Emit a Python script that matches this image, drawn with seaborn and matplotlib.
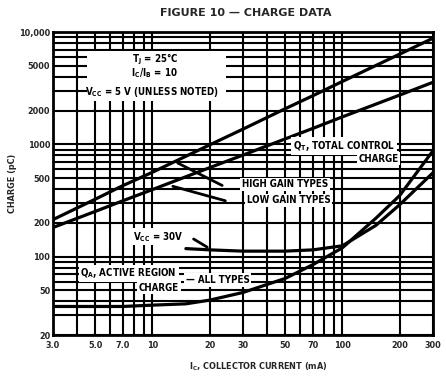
import numpy as np
import pandas as pd
import matplotlib
matplotlib.use("Agg")
import matplotlib.pyplot as plt
import seaborn as sns

# collector current (mA) and charge (pC)
ic_qt = [3, 5, 7, 10, 20, 30, 50, 70, 100, 200, 300]
qt_high = [214, 325, 430, 565, 990, 1370, 2080, 2720, 3640, 6370, 8840]
qt_low = [182, 253, 315, 396, 621, 804, 1120, 1390, 1760, 2750, 3580]

ic_qa5 = [3, 5, 7, 10, 15, 20, 30, 50, 70, 100, 150, 200, 300]
qa_5v = [36, 36, 36, 37, 38, 41, 48, 64, 85, 120, 220, 350, 880]

ic_qa30 = [15, 20, 30, 50, 70, 100, 150, 200, 300]
qa_30v = [118, 115, 112, 112, 115, 125, 190, 290, 560]

x_ticks = [3, 5, 7, 10, 20, 30, 50, 70, 100, 200, 300]
x_labels = ["3.0", "5.0", "7.0", "10", "20", "30", "50", "70", "100", "200", "300"]
y_ticks = [20, 50, 100, 200, 500, 1000, 2000, 5000, 10000]
y_labels = ["20", "50", "100", "200", "500", "1000", "2000", "5000", "10,000"]

sns.set_theme(style="white")
plt.rcParams["font.family"] = ["Liberation Sans Narrow", "DejaVu Sans"]
plt.rcParams["font.stretch"] = "condensed"
plt.rcParams["font.weight"] = "bold"

fig = plt.figure(figsize=(4.46, 3.83), dpi=100)
ax = fig.add_axes([0.119, 0.125, 0.852, 0.791])
ax.set_xscale("log")
ax.set_yscale("log")
ax.set_xlim(3, 300)
ax.set_ylim(20, 10000)

# dense datasheet grid
xgrid = [3, 4, 5, 6, 7, 8, 9, 10, 20, 30, 40, 50, 60, 70, 80, 90, 100, 200, 300]
ygrid = [20, 30, 40, 50, 60, 70, 80, 90, 100, 200, 300, 400, 500, 600, 700, 800, 900,
         1000, 2000, 3000, 4000, 5000, 6000, 7000, 8000, 9000, 10000]
for gx in xgrid:
    ax.axvline(gx, color="black", lw=1.5, zorder=1)
for gy in ygrid:
    ax.axhline(gy, color="black", lw=1.5, zorder=1)

curves = [(ic_qt, qt_high), (ic_qt, qt_low), (ic_qa5, qa_5v), (ic_qa30, qa_30v)]
for xs, ys in curves:
    sns.lineplot(x=xs, y=ys, ax=ax, color="black", lw=2.3, zorder=3)

ax.set_xticks(x_ticks)
ax.set_xticklabels(x_labels)
ax.set_yticks(y_ticks)
ax.set_yticklabels(y_labels)
ax.minorticks_off()
ax.tick_params(length=0, labelsize=6.5, pad=2)
ax.tick_params(axis="x", pad=4)
for s in ax.spines.values():
    s.set_color("black")
    s.set_linewidth(2)

fig.text(0.55, 1 - 13 / 383, "FIGURE 10 — CHARGE DATA", ha="center", va="center",
         fontsize=8, fontweight="bold", fontstretch="normal")
ax.set_xlabel("I$_\\mathregular{C}$, COLLECTOR CURRENT (mA)", fontsize=6.5, fontweight="bold")
ax.xaxis.set_label_coords(0.54, -0.085)
ax.set_ylabel("CHARGE (pC)", fontsize=6.5, fontweight="bold")
ax.yaxis.set_label_coords(-0.095, 0.5)

box = dict(facecolor="white", edgecolor="none", pad=1.2)
tkw = dict(fontsize=7, fontweight="bold", color="black", zorder=5)

# conditions block
ax.fill_between([4.5, 24.5], 2450, 6800, color="white", zorder=2, lw=0)
ax.text(10.3, 5700, "T$_\\mathregular{J}$ = 25°C", ha="center", va="center", **tkw)
ax.text(10.3, 4300, "I$_\\mathregular{C}$/I$_\\mathregular{B}$ = 10", ha="center", va="center", **tkw)
ax.text(9.9, 2950, "V$_\\mathregular{CC}$ = 5 V (UNLESS NOTED)", ha="center", va="center", **tkw)

ax.text(102, 970, "Q$_\\mathregular{T}$, TOTAL CONTROL", ha="center", va="center", bbox=box, **tkw)
ax.text(155, 745, "CHARGE", ha="center", va="center", bbox=box, **tkw)
ax.text(50, 440, "HIGH GAIN TYPES", ha="center", va="center", bbox=box, **tkw)
ax.text(52, 318, "LOW GAIN TYPES", ha="center", va="center", bbox=box, **tkw)
ax.annotate("", xy=(13.2, 700), xytext=(24, 420), zorder=4,
            arrowprops=dict(arrowstyle="-", lw=2, color="black"))
ax.annotate("", xy=(12.4, 430), xytext=(25, 310), zorder=4,
            arrowprops=dict(arrowstyle="-", lw=2, color="black"))
ax.text(10.8, 150, "V$_\\mathregular{CC}$ = 30V", ha="center", va="center", bbox=box, **tkw)
ax.annotate("", xy=(20, 118), xytext=(16, 148), zorder=5,
            arrowprops=dict(arrowstyle="-", lw=2, color="black"))

ax.text(7.5, 71, "Q$_\\mathregular{A}$, ACTIVE REGION", ha="center", va="center", bbox=box, **tkw)
ax.text(10.8, 53, "CHARGE", ha="center", va="center", bbox=box, **tkw)
ax.text(22, 62, "— ALL TYPES", ha="center", va="center", bbox=box, **tkw)

fig.savefig("out.png", dpi=100)
